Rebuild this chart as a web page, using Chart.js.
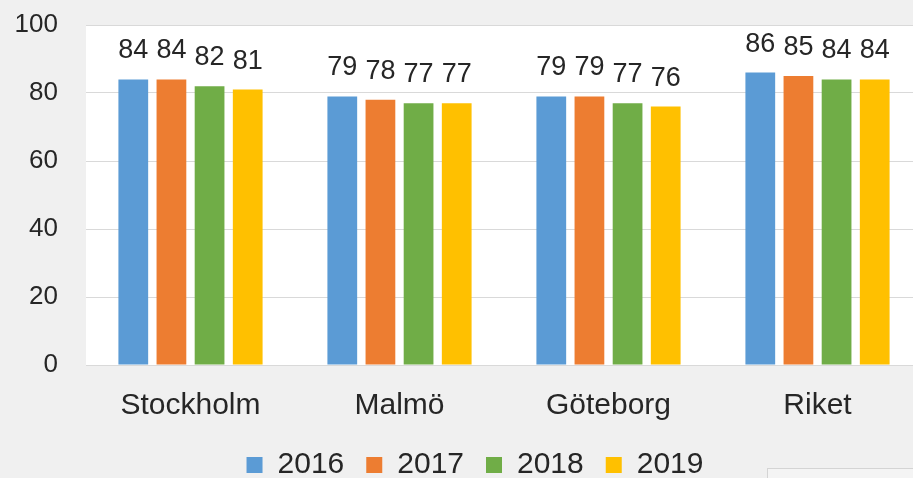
<!DOCTYPE html>
<html>
<head>
<meta charset="utf-8">
<script src="https://cdn.jsdelivr.net/npm/chart.js@4/dist/chart.umd.min.js"></script>
<style>
  html, body { margin: 0; padding: 0; background: #f0f0f0; overflow: hidden; }
  #wrap { position: relative; width: 922px; height: 478px; }
  #corner { position: absolute; left: 767px; top: 468px; width: 200px; height: 30px;
            border: 1px solid #d4d4d4; background: #f4f4f4; }
</style>
</head>
<body>
<div id="wrap">
  <canvas id="mycanvas" width="922" height="478"></canvas>
  <div id="corner"></div>
</div>
<script>
var cities = ["Stockholm", "Malmö", "Göteborg", "Riket"];
var years = ["2016", "2017", "2018", "2019"];
var y2016 = [84, 79, 79, 86];
var y2017 = [84, 78, 79, 85];
var y2018 = [82, 77, 77, 84];
var y2019 = [81, 77, 76, 84];
var colors = ["#5b9bd5", "#ed7d31", "#70ad47", "#ffc000"];

var textColor = "#262626";
var fontName = "'Liberation Sans', Arial, sans-serif";

// white plot area like excel
var plotBg = {
  id: "plotBg",
  afterLayout: function(chart) {
    // legend sits a bit right of the canvas centre in the original
    if (chart.legend) chart.legend.left += 28;
  },
  beforeDraw: function(chart) {
    var a = chart.chartArea, c = chart.ctx;
    c.save();
    c.fillStyle = "#ffffff";
    c.fillRect(a.left, a.top, a.right - a.left, a.bottom - a.top);
    c.restore();
  }
};

// numbers over the bars
var barLabels = {
  id: "barLabels",
  afterDatasetsDraw: function(chart) {
    var c = chart.ctx;
    c.save();
    c.font = "27px " + fontName;
    c.fillStyle = textColor;
    c.textAlign = "center";
    c.textBaseline = "alphabetic";
    chart.data.datasets.forEach(function(ds, i) {
      chart.getDatasetMeta(i).data.forEach(function(bar, j) {
        c.fillText(ds.data[j], bar.x, bar.y - 21);
      });
    });
    c.restore();
  }
};

var series = [y2016, y2017, y2018, y2019];
var datasets = [];
for (var i = 0; i < years.length; i++) {
  datasets.push({
    label: years[i],
    data: series[i],
    backgroundColor: colors[i],
    borderWidth: 0,
    categoryPercentage: 0.73,
    barPercentage: 0.78
  });
}

new Chart(document.getElementById("mycanvas"), {
  type: "bar",
  data: { labels: cities, datasets: datasets },
  plugins: [plotBg, barLabels],
  options: {
    responsive: false,
    animation: false,
    layout: { padding: { top: 25, right: 0, bottom: -12, left: 0 } },
    plugins: {
      tooltip: { enabled: false },
      legend: {
        position: "bottom",
        labels: {
          color: textColor,
          font: { size: 30, family: fontName },
          boxWidth: 16,
          boxHeight: 16,
          padding: 22
        }
      }
    },
    scales: {
      x: {
        grid: { display: false },
        border: { display: true, color: "#d9d9d9" },
        ticks: { color: textColor, font: { size: 30, family: fontName }, padding: 15 },
        afterFit: function(s) { s.height = 63; }
      },
      y: {
        min: 0,
        max: 100,
        ticks: { stepSize: 20, color: textColor, font: { size: 26, family: fontName }, padding: 28 },
        grid: { color: "#d9d9d9", drawTicks: false },
        border: { display: false },
        afterFit: function(s) {
          s.width = 86;
          s.paddingTop = 0;
          s.paddingBottom = 0;
        }
      }
    }
  }
});
</script>
</body>
</html>
